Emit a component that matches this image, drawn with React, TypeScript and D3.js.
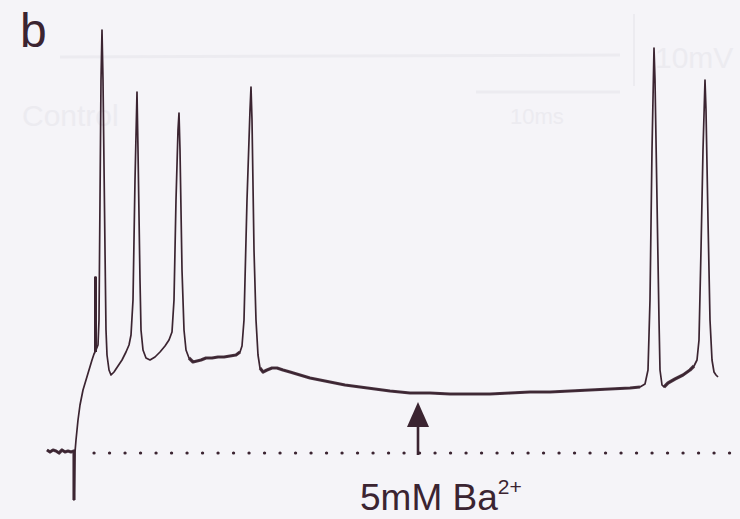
import React, { useEffect } from 'react';
import * as d3 from 'd3';

const W = 740;
const H = 519;

// recorded trace: time (ms) and membrane potential relative to rest (mV)
const traceTime = [
  0, 3, 6, 9, 12, 15, 18, 21, 24, 27, 27, 28, 29, 31, 33, 36, 39, 42, 45, 47,
  48, 48, 49, 49, 51, 52, 53, 54, 55, 56, 58, 59, 60, 62, 64, 67, 71, 75, 79, 82,
  84, 86, 88, 90, 91, 93, 94, 96, 99, 103, 108, 113, 118, 122, 125, 127, 129, 131, 132, 133,
  135, 137, 139, 142, 146, 150, 154, 159, 165, 171, 177, 183, 189, 193, 195, 197, 200, 203, 204, 205,
  207, 209, 211, 213, 216, 220, 225, 230, 236, 243, 253, 263, 273, 283, 298, 313, 328, 343, 363, 383,
  403, 423, 443, 463, 483, 503, 523, 543, 563, 583, 593, 598, 601, 603, 605, 607, 608, 610, 612, 613,
  615, 617, 621, 628, 636, 643, 647, 650, 652, 654, 656, 658, 659, 661, 663, 665, 667, 669, 671,
];
const traceMv = [
  0.75, 0.25, 0.75, 0.5, 0, 0.75, 0.25, 0.5, 0.25, 0.5, -11.75, 0.25, 3.25, 8.25, 12, 15.75, 18.25, 20.75, 23.25, 24.75,
  25.25, 44, 44, 25.75, 27, 33.25, 63.25, 93.25, 105.75, 93.25, 50.75, 30.75, 24.5, 20.75, 19.5, 20.25, 21.75, 23.25, 25.25, 27,
  29.5, 38.25, 68.25, 90.25, 75.75, 43.25, 30.75, 25.75, 23.75, 23.25, 24, 25.25, 26.75, 28.25, 30.25, 38.25, 63.25, 80.75, 85, 75.75,
  45.75, 30.75, 25.75, 23.75, 22.75, 23, 23.25, 23.75, 23.75, 24, 24, 24.25, 24.5, 25.25, 26.75, 33.25, 63.25, 85.75, 91.5, 83.25,
  50.75, 33.25, 24.5, 21.25, 20.25, 20.75, 21.25, 21.25, 20.75, 20.25, 19.5, 18.75, 18.25, 17.75, 17, 16.5, 16, 15.5, 15, 15,
  14.75, 14.75, 14.75, 15, 15.25, 15.25, 15.5, 15.75, 16, 16.25, 16.5, 17.25, 20.75, 38.25, 75.75, 101.25, 93.25, 63.25, 33.25, 20.75,
  17, 16.5, 17.5, 18.5, 19.5, 20.75, 21.75, 23.25, 28.25, 50.75, 75.75, 93.25, 85.75, 58.25, 33.25, 23.25, 20.25, 19.5, 19,
];

// stretches where the recording noise makes the trace look thick
const noisyRanges: [number, number][] = [[0, 27], [142, 193], [213, 597], [617, 647]];

// resting level (dotted) and the Ba2+ application time
const restMv = 0;
const dottedStartMs = 47;
const baApplyMs = 371;
const arrowTipMv = 12.75;

const panelLabel = 'b';
const drugLabel = '5mM Ba';
const drugCharge = '2+';

const INK = '#3b2431';
const BG = '#f5f4f8';
const GHOST = '#ecebf0';

export default function App() {
  useEffect(() => {
    document.body.style.margin = '0';
  }, []);

  const x = d3.scaleLinear().domain([0, 693]).range([47, 740]);
  const y = d3.scaleLinear().domain([-12, 106]).range([501, 29]);

  const pts: [number, number][] = traceTime.map((t, i) => [t, traceMv[i]]);
  const line = d3.line<[number, number]>().x(d => x(d[0])).y(d => y(d[1]));

  const noisy = noisyRanges.map(([a, b]) => pts.filter(d => d[0] >= a && d[0] <= b));

  const ax = x(baApplyMs);
  const tipY = y(arrowTipMv);
  const headBase = tipY + 25;

  return (
    <svg width={W} height={H} style={{ display: 'block' }} fontFamily="Liberation Sans, Arial, sans-serif">
      <rect width={W} height={H} fill={BG} />

      {/* faint show-through from the facing page */}
      <g fill={GHOST} stroke={GHOST}>
        <text x={22} y={126} fontSize={30} stroke="none">Control</text>
        <text x={655} y={68} fontSize={30} stroke="none">10mV</text>
        <text x={510} y={124} fontSize={22} stroke="none">10ms</text>
        <line x1={634} x2={634} y1={14} y2={86} strokeWidth={2} />
        <line x1={60} x2={620} y1={57} y2={55} strokeWidth={3} />
        <line x1={476} x2={620} y1={92} y2={92} strokeWidth={3} />
      </g>

      <text x={20} y={47} fontSize={48} fill={INK}>{panelLabel}</text>

      {/* resting potential */}
      <line
        x1={x(dottedStartMs)}
        x2={W}
        y1={y(restMv)}
        y2={y(restMv)}
        stroke={INK}
        strokeWidth={3.2}
        strokeLinecap="round"
        strokeDasharray="0.1 15.4"
      />

      {/* trace */}
      {noisy.map((seg, i) => (
        <path key={i} d={line(seg) || ''} fill="none" stroke={INK} strokeWidth={3.2} strokeLinejoin="round" opacity={0.9} />
      ))}
      <path d={line(pts) || ''} fill="none" stroke={INK} strokeWidth={1.7} strokeLinejoin="round" />
      <line x1={x(48.5)} x2={x(48.5)} y1={y(25.25)} y2={y(44)} stroke={INK} strokeWidth={3} />

      {/* application arrow */}
      <line x1={ax} x2={ax} y1={y(restMv) + 2} y2={headBase - 2} stroke={INK} strokeWidth={2.6} />
      <path d={`M${ax},${tipY} L${ax - 11},${headBase} L${ax + 11},${headBase} Z`} fill={INK} />

      <text x={360} y={510} fontSize={37} fill={INK}>
        {drugLabel}
        <tspan fontSize={21} dy={-16}>{drugCharge}</tspan>
      </text>
    </svg>
  );
}
